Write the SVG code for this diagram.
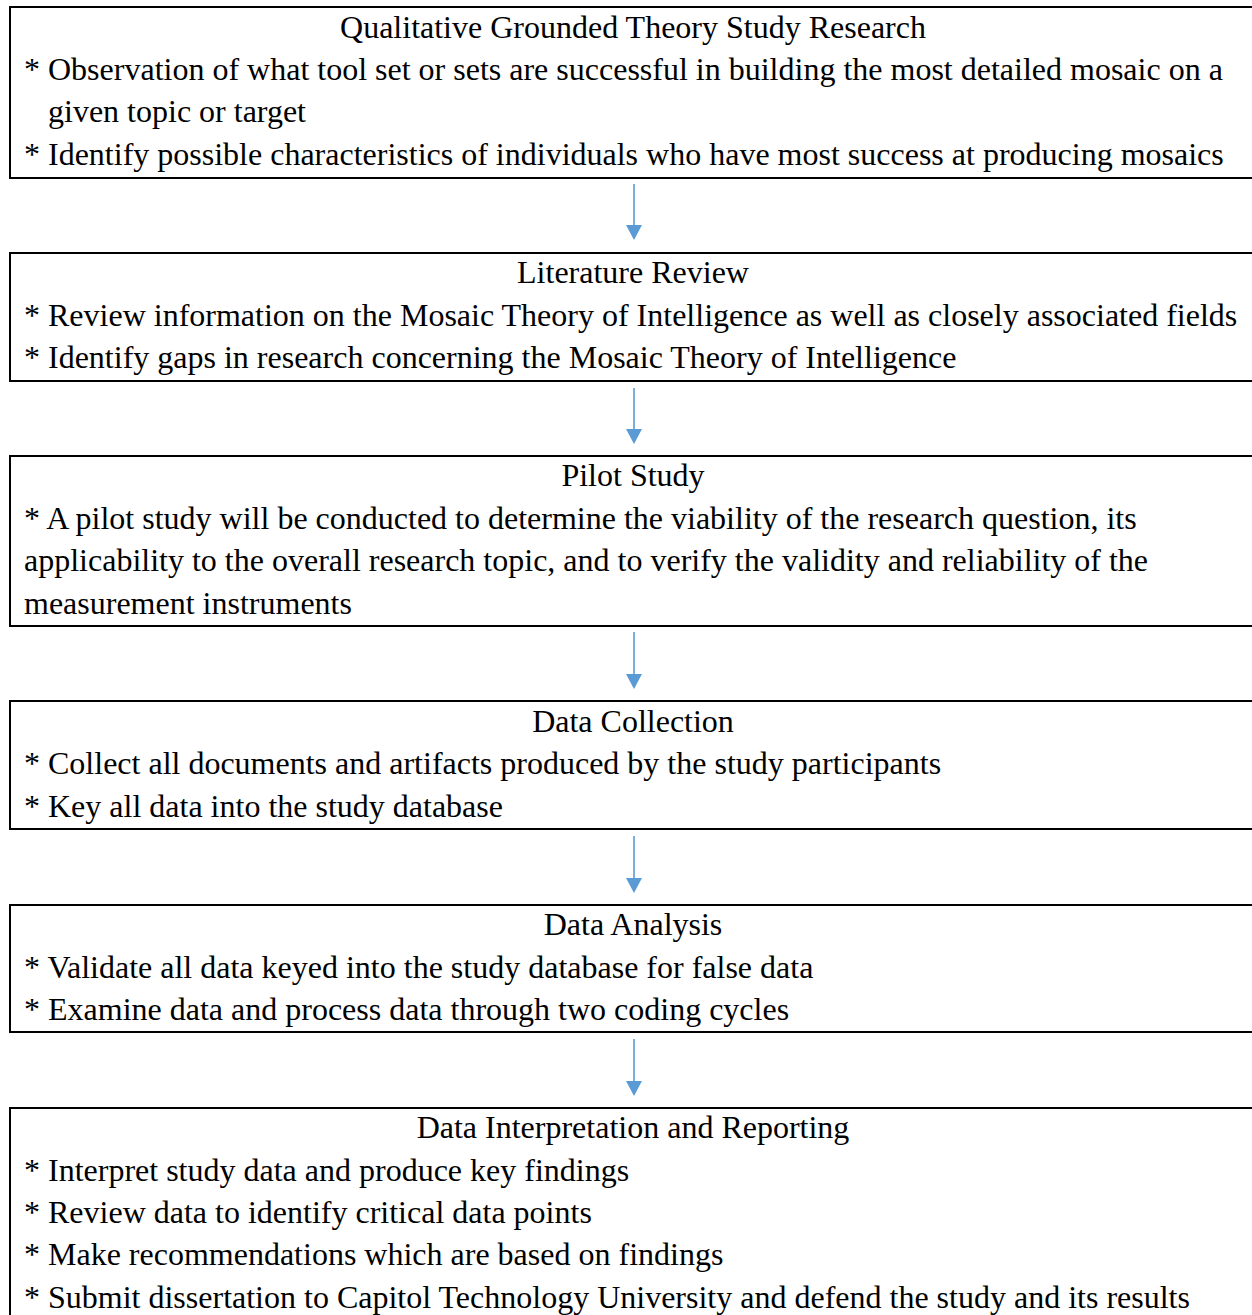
<svg xmlns="http://www.w3.org/2000/svg" width="1252" height="1315" viewBox="0 0 1252 1315">
<style>
.box{fill:#fff;stroke:#000;stroke-width:2}
text{font-family:"Liberation Serif","Times New Roman",serif;font-size:32px;fill:#000}
.t{text-anchor:middle}
.c line{stroke:#5B9BD5;stroke-width:1.6}
.c path{fill:#5B9BD5}
</style>
<rect width="1252" height="1315" fill="#fff"/>
<g id="n1">
<rect class="box" x="10" y="7" width="1260" height="171"/>
<text class="t" x="633" y="38">Qualitative Grounded Theory Study Research</text>
<text x="24" y="80">* Observation of what tool set or sets are successful in building the most detailed mosaic on a</text>
<text x="48" y="122">given topic or target</text>
<text x="24" y="165">* Identify possible characteristics of individuals who have most success at producing mosaics</text>
</g>
<g id="n2">
<rect class="box" x="10" y="253" width="1260" height="128"/>
<text class="t" x="633" y="283">Literature Review</text>
<text x="24" y="326">* Review information on the Mosaic Theory of Intelligence as well as closely associated fields</text>
<text x="24" y="368">* Identify gaps in research concerning the Mosaic Theory of Intelligence</text>
</g>
<g id="n3">
<rect class="box" x="10" y="456" width="1260" height="170"/>
<text class="t" x="633" y="486">Pilot Study</text>
<text x="24" y="529">* A pilot study will be conducted to determine the viability of the research question, its</text>
<text x="24" y="571">applicability to the overall research topic, and to verify the validity and reliability of the</text>
<text x="24" y="614">measurement instruments</text>
</g>
<g id="n4">
<rect class="box" x="10" y="701" width="1260" height="128"/>
<text class="t" x="633" y="732">Data Collection</text>
<text x="24" y="774">* Collect all documents and artifacts produced by the study participants</text>
<text x="24" y="817">* Key all data into the study database</text>
</g>
<g id="n5">
<rect class="box" x="10" y="905" width="1260" height="127"/>
<text class="t" x="633" y="935">Data Analysis</text>
<text x="24" y="978">* Validate all data keyed into the study database for false data</text>
<text x="24" y="1020">* Examine data and process data through two coding cycles</text>
</g>
<g id="n6">
<rect class="box" x="10" y="1108" width="1260" height="230"/>
<text class="t" x="633" y="1138">Data Interpretation and Reporting</text>
<text x="24" y="1181">* Interpret study data and produce key findings</text>
<text x="24" y="1223">* Review data to identify critical data points</text>
<text x="24" y="1265">* Make recommendations which are based on findings</text>
<text x="24" y="1308">* Submit dissertation to Capitol Technology University and defend the study and its results</text>
</g>
<g id="connectors" class="c">
<line x1="634" y1="184" x2="634" y2="226"/><path d="M626 225 L642 225 L634 240 Z"/>
<line x1="634" y1="388" x2="634" y2="430"/><path d="M626 429 L642 429 L634 444 Z"/>
<line x1="634" y1="632" x2="634" y2="675"/><path d="M626 674 L642 674 L634 689 Z"/>
<line x1="634" y1="836" x2="634" y2="879"/><path d="M626 878 L642 878 L634 893 Z"/>
<line x1="634" y1="1039" x2="634" y2="1082"/><path d="M626 1081 L642 1081 L634 1096 Z"/>
</g>
</svg>
